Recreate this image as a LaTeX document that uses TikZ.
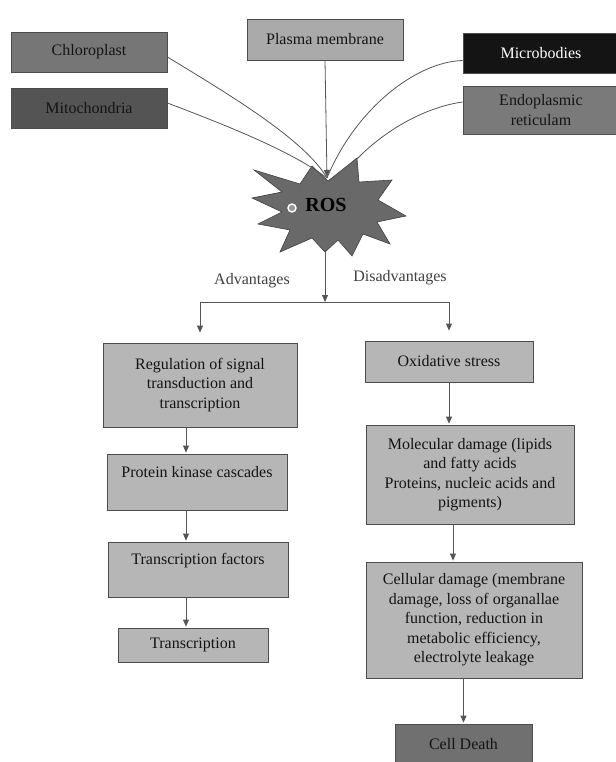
\documentclass[tikz,border=0pt]{standalone}
\usepackage{fontspec}
\setmainfont{Liberation Serif}
\usetikzlibrary{arrows.meta}
\definecolor{boxGrey}{RGB}{182,182,182}
\definecolor{lineGrey}{RGB}{85,85,85}
\definecolor{chloroGrey}{RGB}{118,118,118}
\definecolor{mitoGrey}{RGB}{84,84,84}
\definecolor{plasmaGrey}{RGB}{170,170,170}
\definecolor{microBlack}{RGB}{20,20,20}
\definecolor{erGrey}{RGB}{122,122,122}
\definecolor{deathGrey}{RGB}{112,112,112}
\definecolor{rosGrey}{RGB}{105,105,105}

\begin{document}
\begin{tikzpicture}[x=1pt, y=-1pt,
    every node/.style={font=\fontsize{16}{19.5}\selectfont, text=black!92},
    src/.style={draw=black!70, line width=0.8pt, minimum width=156pt, minimum height=40pt, inner sep=2pt, align=center},
    stage/.style={draw=black!70, line width=0.8pt, fill=boxGrey, inner sep=2pt, align=center},
    conn/.style={draw=lineGrey, line width=0.8pt},
    arr/.style={conn, -{Triangle[length=7pt,width=6pt]}, shorten >=1pt}]
  \useasboundingbox (0,0) rectangle (615,762);

  % where ROS comes from
  \node[src, fill=chloroGrey] (chloro) at (89,52) {Chloroplast};
  \node[src, fill=mitoGrey] (mito) at (89,108) {Mitochondria};
  \node[src, fill=plasmaGrey, minimum height=41pt] (plasma) at (325,39.5) {Plasma membrane};
  \node[src, fill=microBlack, text=white] (micro) at (541,53.5) {Microbodies};
  \node[src, fill=erGrey, minimum height=48pt] (er) at (541,110) {Endoplasmic\\reticulam};

  % ROS burst
  \filldraw[fill=rosGrey, draw=black!75, line width=0.6pt]
    (254,170) -- (300,184) -- (312,166) -- (328,181) -- (357,158) -- (359,182)
    -- (392,180) -- (378,200) -- (406,216) -- (377,222) -- (390,244) -- (363,234)
    -- (352,256) -- (338,240) -- (325,252) -- (312,238) -- (280,252) -- (290,230)
    -- (258,224) -- (282,212) -- (252,198) -- (282,192) -- cycle;
  \draw[white, line width=1.4pt, fill=rosGrey!70] (292,208) circle (4pt);
  \node[font=\bfseries\fontsize{20}{24}\selectfont, text=black] (ros) at (326,205) {ROS};
  \coordinate (rostop) at (327,178);
  \coordinate (rosright) at (357,159);
  \coordinate (rosbot) at (325,250);

  \draw[conn] ([yshift=-5pt]chloro.east) .. controls (230,95) and (305,140) .. (rostop);
  \draw[conn] ([yshift=5pt]mito.east) .. controls (220,123) and (290,150) .. (rostop);
  \draw[conn] ([yshift=-7pt]micro.west) .. controls (415,62) and (355,110) .. (rostop);
  \draw[conn] ([yshift=8pt]er.west) .. controls (420,108) and (380,135) .. (rosright);
  \draw[arr] (plasma.south) -- (rostop);

  % split
  \coordinate (split) at (325,302);
  \draw[arr, shorten >=0pt] (rosbot) -- (split);
  \node[text=black!75] (adv) at (252,281) {Advantages};
  \node[text=black!75] (disadv) at (400,278) {Disadvantages};

  % advantages
  \node[stage, minimum width=194pt, minimum height=84pt] (reg) at (200,385)
    {Regulation of signal\\transduction and\\transcription};
  \node[stage, minimum width=180pt, minimum height=56pt, text depth=21pt] (kin) at (197,482)
    {Protein kinase cascades};
  \node[stage, minimum width=180pt, minimum height=55pt, text depth=22pt] (tfac) at (198,569.5)
    {Transcription factors};
  \node[stage, minimum width=150pt, minimum height=34pt] (trans) at (193,645) {Transcription};

  % disadvantages
  \node[stage, minimum width=168pt, minimum height=41pt] (ox) at (449,361.5) {Oxidative stress};
  \node[stage, minimum width=208pt, minimum height=99pt] (mol) at (470,474.5)
    {Molecular damage (lipids\\and fatty acids\\Proteins, nucleic acids and\\pigments)};
  \node[stage, minimum width=216pt, minimum height=116pt] (cell) at (474,620)
    {Cellular damage (membrane\\damage, loss of organallae\\function, reduction in\\metabolic efficiency,\\electrolyte leakage};
  \node[stage, fill=deathGrey, minimum width=137pt, minimum height=40pt] (death) at (463.5,744) {Cell Death};

  \draw[arr, shorten >=10pt] (split) -| (reg.north);
  \draw[arr, shorten >=10pt] (split) -| (ox.north);

  \coordinate (lcol) at (186,0);
  \coordinate (rcol) at (453,0);
  \draw[arr] (reg.south -| lcol) -- (kin.north -| lcol);
  \draw[arr] (kin.south -| lcol) -- (tfac.north -| lcol);
  \draw[arr] (tfac.south -| lcol) -- (trans.north -| lcol);
  \draw[arr] (ox.south) -- (mol.north -| ox.south);
  \draw[arr] (mol.south -| rcol) -- (cell.north -| rcol);
  \draw[arr] (cell.south -| death.north) -- (death.north);
\end{tikzpicture}
\end{document}
